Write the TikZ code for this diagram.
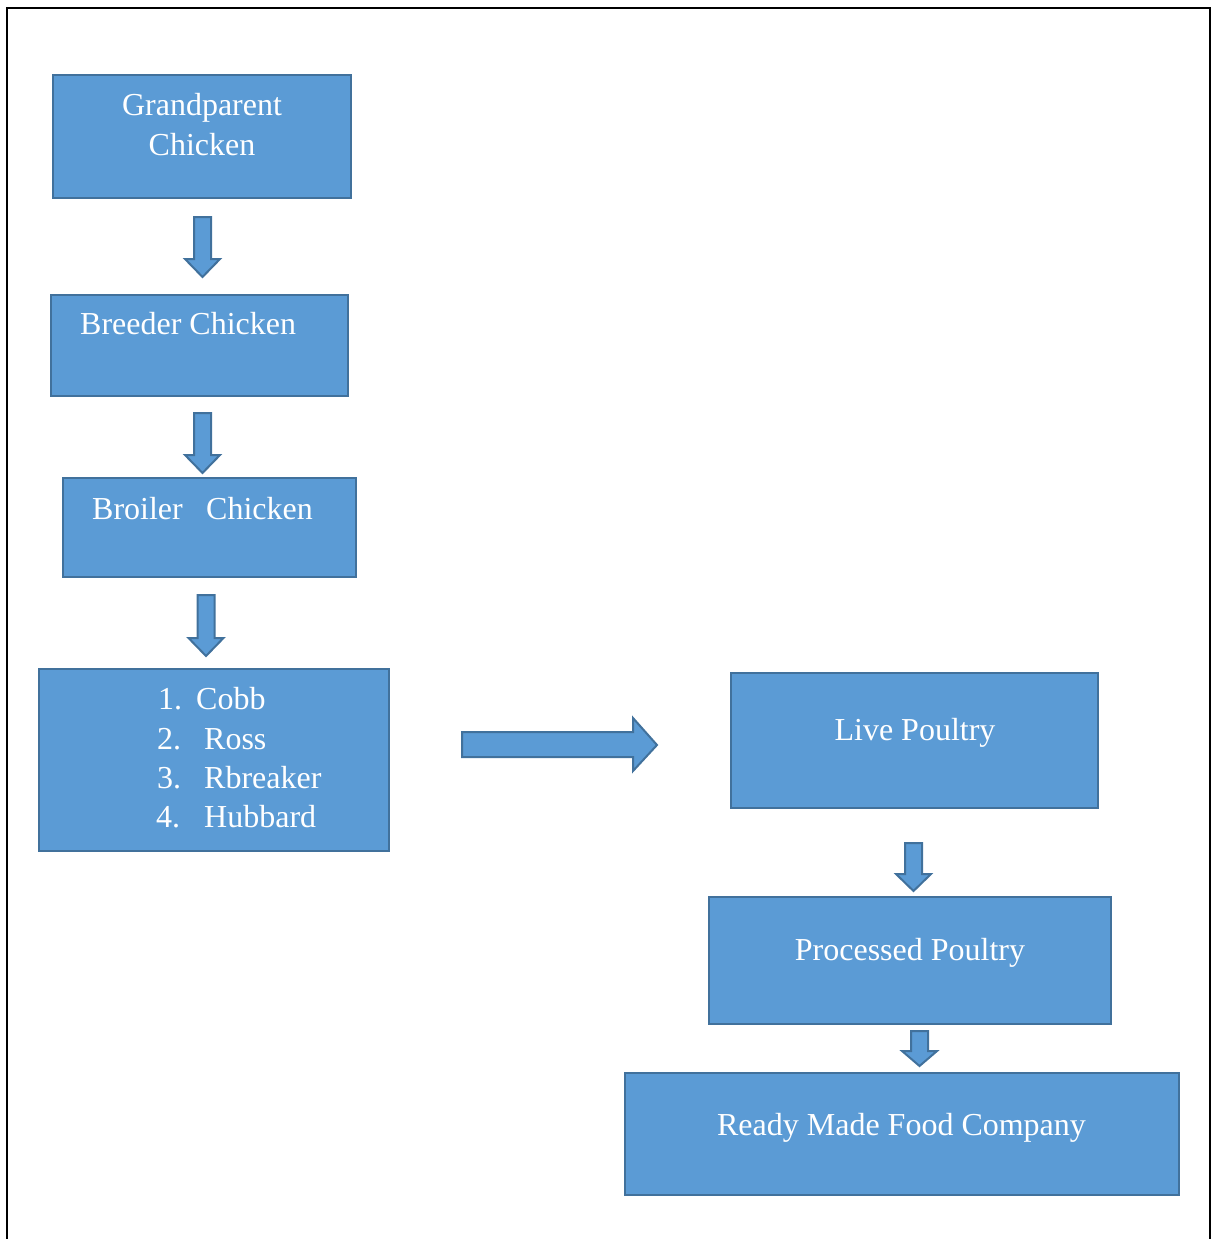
\documentclass[tikz,border=0pt]{standalone}
\usepackage{fontspec}
\setmainfont{Liberation Serif}
\definecolor{boxfill}{HTML}{5B9BD5}
\definecolor{boxline}{HTML}{41719C}
\tikzset{
  box/.style={draw=boxline, fill=boxfill, line width=2pt},
  txt/.style={text=white, inner sep=0pt, font=\fontsize{32}{39.5}\selectfont},
  blockarrow/.style={draw=boxline, fill=boxfill, line width=2pt, line join=miter},
}
% down block arrow: centre x, top y, head start y, tip y
\newcommand{\downblock}[4]{%
  \draw[blockarrow] (#1-8.5,#2) -- (#1+8.5,#2) -- (#1+8.5,#3) -- (#1+17.5,#3)
    -- (#1,#4) -- (#1-17.5,#3) -- (#1-8.5,#3) -- cycle;}
\begin{document}
\begin{tikzpicture}[x=1pt,y=-1pt]
\useasboundingbox (0,0) rectangle (1211,1239);
% frame
\coordinate (fbl) at (7,1239);
\coordinate (ftl) at (7,8);
\coordinate (ftr) at (1210,8);
\coordinate (fbr) at (1210,1239);
\draw[line width=2pt] (fbl) -- (ftl) -- (ftr) -- (fbr);
% boxes
\node[box, minimum width=298pt, minimum height=123pt] (gp) at (201.5,136) {};
\node[box, minimum width=297pt, minimum height=101pt] (br) at (199,345) {};
\node[box, minimum width=293pt, minimum height=99pt] (bo) at (209,527.5) {};
\node[box, minimum width=350pt, minimum height=182pt] (ls) at (213.5,759.5) {};
\node[box, minimum width=367pt, minimum height=135pt] (lp) at (914.5,740) {};
\node[box, minimum width=402pt, minimum height=127pt] (pp) at (910,960) {};
\node[box, minimum width=554pt, minimum height=122pt] (rm) at (901.5,1134) {};
% texts
\node[txt, anchor=base] (gpt1) at (202,115) {Grandparent};
\node[txt, anchor=base] (gpt2) at (202,155) {Chicken};
\node[txt, anchor=base west] (brt) at (80,334) {Breeder Chicken};
\node[txt, anchor=base west] (bot1) at (92,519) {Broiler};
\node[txt, anchor=base west] (bot2) at (206,519) {Chicken};
\node[txt, anchor=base west] (n1) at (158,709) {1.};
\node[txt, anchor=base west] (i1) at (196,709) {Cobb};
\node[txt, anchor=base west] (n2) at (157,749) {2.};
\node[txt, anchor=base west] (i2) at (204,749) {Ross};
\node[txt, anchor=base west] (n3) at (157,788) {3.};
\node[txt, anchor=base west] (i3) at (204,788) {Rbreaker};
\node[txt, anchor=base west] (n4) at (156,827) {4.};
\node[txt, anchor=base west] (i4) at (204,827) {Hubbard};
\node[txt, anchor=base] (lpt) at (915,740) {Live Poultry};
\node[txt, anchor=base] (ppt) at (910,960) {Processed Poultry};
\node[txt, anchor=base] (rmt) at (901.5,1135) {Ready Made Food Company};
% block arrows
\downblock{202.5}{217}{259}{277}
\downblock{202.5}{413}{455}{473}
\downblock{206}{595}{638}{656}
\downblock{913.5}{843}{874}{891}
\downblock{919.5}{1031}{1051}{1066}
\draw[blockarrow] (462,732) -- (633,732) -- (633,718) -- (657,745) -- (633,771)
  -- (633,757) -- (462,757) -- cycle;
\end{tikzpicture}
\end{document}
